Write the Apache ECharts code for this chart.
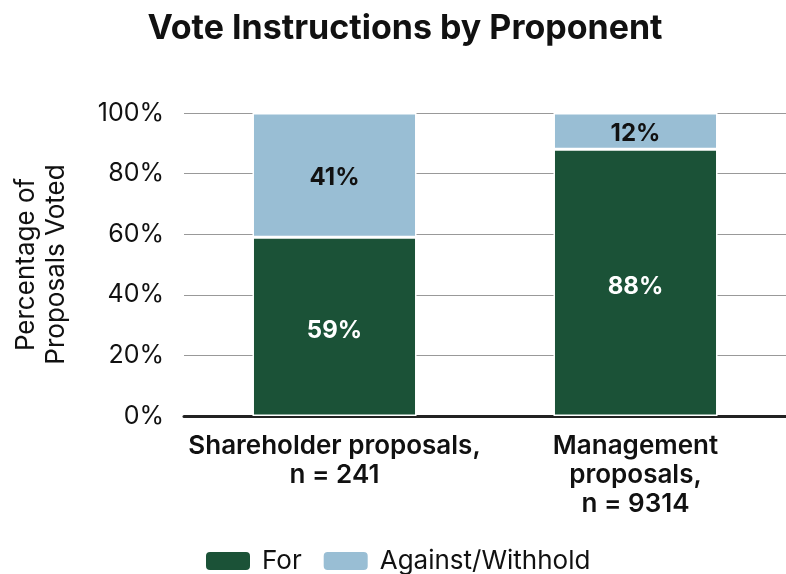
<!DOCTYPE html>
<html><head><meta charset="utf-8">
<script src="https://cdn.jsdelivr.net/npm/echarts@6/dist/echarts.min.js"></script>
<style>html,body{margin:0;padding:0;background:#fff}#c{width:786px;height:574px}</style>
</head><body><div id="c"></div>
<script>
var categories = ['Shareholder proposals,\nn = 241', 'Management\nproposals,\nn = 9314'];
var forValues = [59, 88];
var againstValues = [41, 12];
var yTicks = [0, 20, 40, 60, 80, 100];

var FONT = 'Inter, "Noto Sans", sans-serif';
var chart = echarts.init(document.getElementById('c'));
chart.setOption({
  animation: false,
  title: {
    text: 'Vote Instructions by Proponent',
    left: 400, top: 7, textAlign: 'center',
    textStyle: {fontFamily: FONT, fontSize: 34, fontWeight: 'bold', color: '#111'}
  },
  legend: {
    bottom: 0, left: 204, padding: 0,
    itemWidth: 46, itemHeight: 20, itemGap: 20,
    textStyle: {fontFamily: FONT, fontSize: 26, color: '#111', padding: [0,0,0,6]},
    data: ['For', 'Against/Withhold']
  },
  grid: {left: 184, right: -5, top: 113, bottom: 158, containLabel: false},
  xAxis: {
    type: 'category', data: categories,
    axisTick: {show: false},
    axisLine: {lineStyle: {color: '#222', width: 3}},
    axisLabel: {fontFamily: FONT, fontSize: 26, fontWeight: 600, color: '#111', lineHeight: 29, margin: 16, interval: 0}
  },
  yAxis: {
    type: 'value', min: 0, max: 100, interval: 20,
    name: 'Percentage of\nProposals Voted', nameLocation: 'middle', nameGap: 113, nameRotate: 90,
    nameTextStyle: {fontFamily: FONT, fontSize: 26, color: '#111', lineHeight: 30},
    axisLabel: {fontFamily: FONT, fontSize: 25, color: '#111', margin: 20,
      formatter: function(v){ return yTicks.indexOf(v) >= 0 ? v + '%' : ''; }},
    splitLine: {lineStyle: {color: '#999', width: 1}},
    axisLine: {show: false}, axisTick: {show: false}
  },
  series: [
    {name: 'For', type: 'bar', stack: 'a', data: forValues, barWidth: '54.5%',
     itemStyle: {color: '#1B5237', borderColor: '#fff', borderWidth: 1.5},
     label: {show: true, position: 'inside', offset: [0, 4], formatter: '{c}%', color: '#fff', fontFamily: FONT, fontSize: 24, fontWeight: 'bold'}},
    {name: 'Against/Withhold', type: 'bar', stack: 'a', data: againstValues, barWidth: '54.5%',
     itemStyle: {color: '#99BED4', borderColor: '#fff', borderWidth: 1.5},
     label: {show: true, position: 'inside', offset: [0, 3], formatter: '{c}%', color: '#111', fontFamily: FONT, fontSize: 24, fontWeight: 'bold'}}
  ]
});
</script></body></html>
